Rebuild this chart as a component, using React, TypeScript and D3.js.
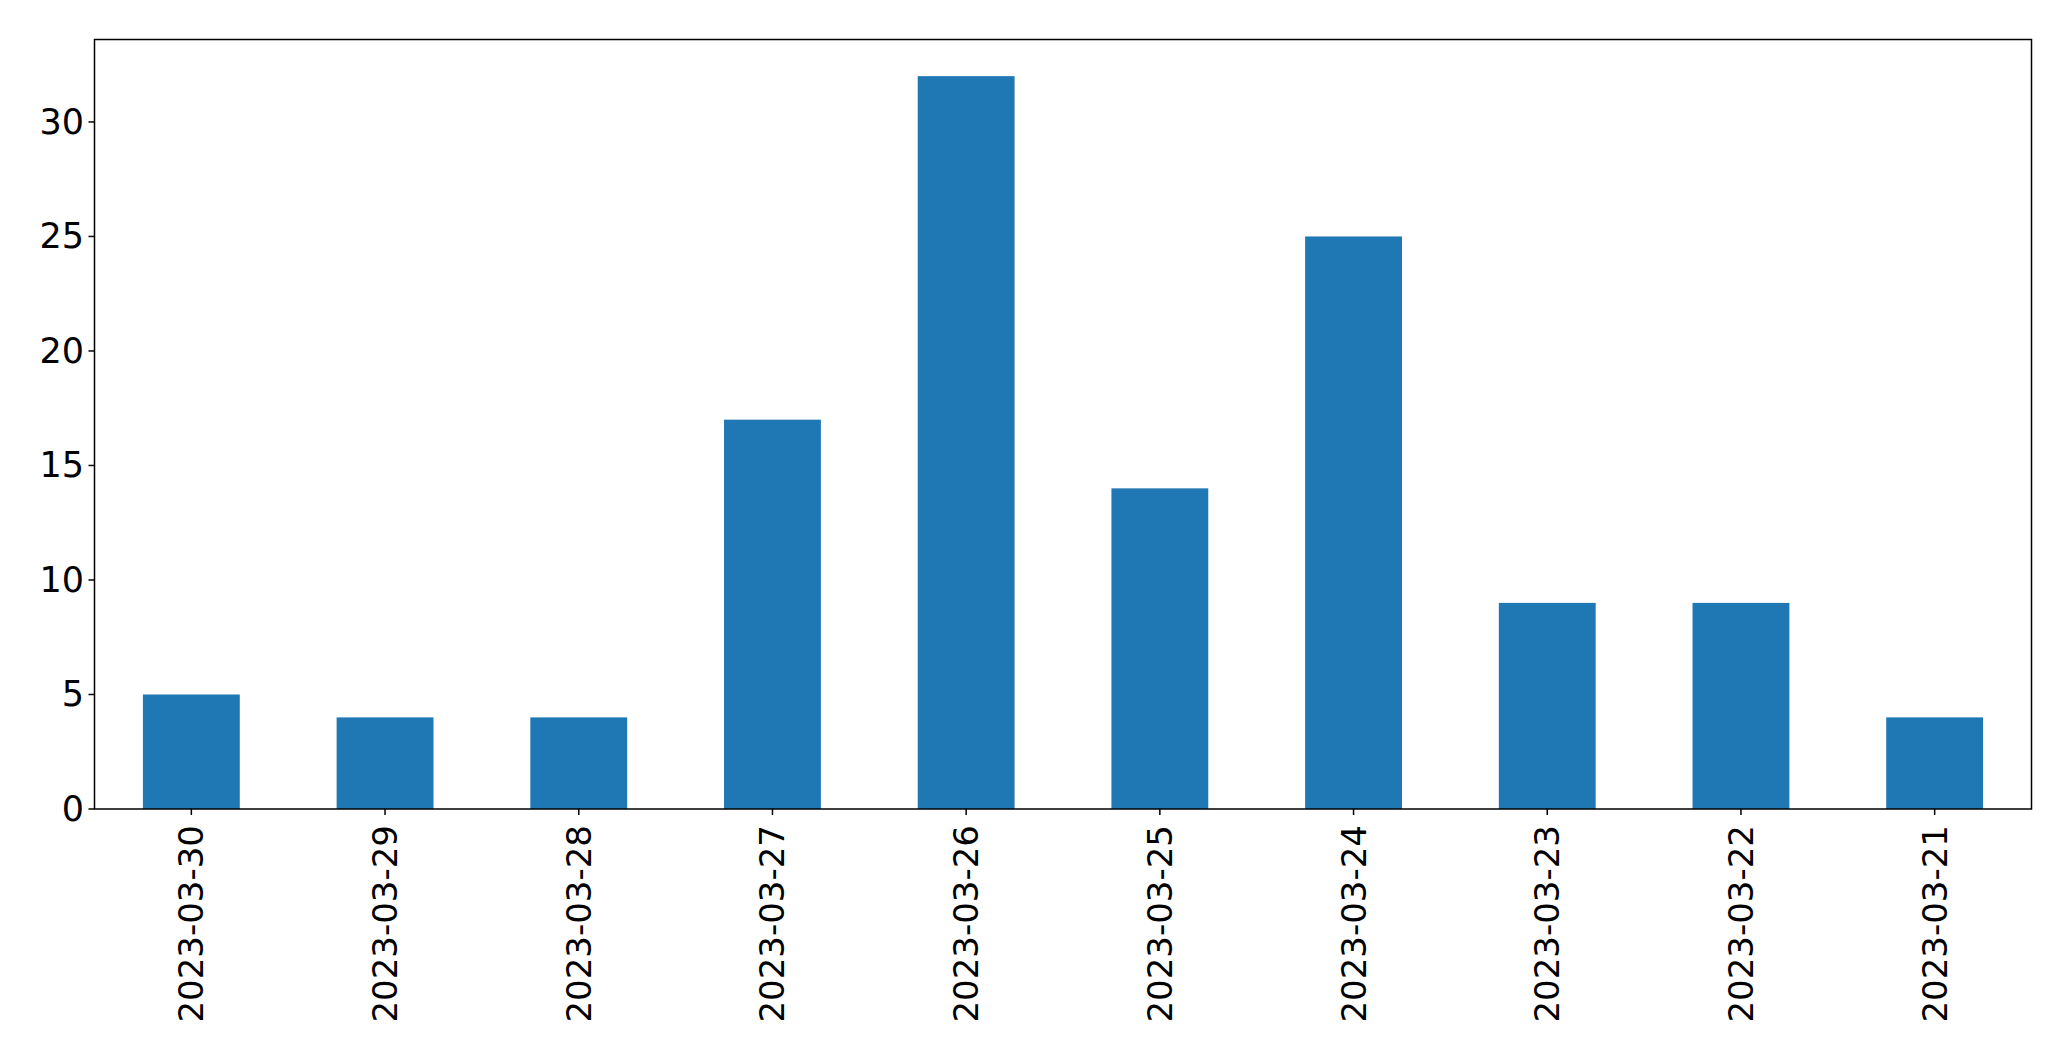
import React from "react";
import * as d3 from "d3";

const categories = ["2023-03-30", "2023-03-29", "2023-03-28", "2023-03-27", "2023-03-26", "2023-03-25", "2023-03-24", "2023-03-23", "2023-03-22", "2023-03-21"];
const values = [5, 4, 4, 17, 32, 14, 25, 9, 9, 4];
const yTicks = [0, 5, 10, 15, 20, 25, 30];

const W = 2071;
const H = 1061;
const left = 94.5;
const right = 2031.5;
const top = 39.5;
const bottom = 809;
const font = "DejaVu Sans, sans-serif";

export default function App() {
  const x = d3.scaleLinear().domain([-0.5, categories.length - 0.5]).range([left, right]);
  const y = d3.scaleLinear().domain([0, d3.max(values)! * 1.05]).range([bottom, top]);
  const bw = x(0.25) - x(-0.25);
  return (
    <svg width={W} height={H} style={{ position: "absolute", left: 0, top: 0, background: "#fff" }}>
      {values.map((v, i) => (
        <rect key={i} x={x(i) - bw / 2} y={y(v)} width={bw} height={y(0) - y(v)} fill="#1f77b4" />
      ))}
      <rect x={left} y={top} width={right - left} height={bottom - top} fill="none" stroke="#000" strokeWidth={1.5} />
      {yTicks.map((t) => (
        <g key={t}>
          <line x1={left - 6} x2={left} y1={y(t)} y2={y(t)} stroke="#000" strokeWidth={1.5} />
          <text x={84} y={y(t)} textAnchor="end" dominantBaseline="central" fontFamily={font} fontSize={35} fill="#000">
            {t}
          </text>
        </g>
      ))}
      {categories.map((c, i) => (
        <g key={c}>
          <line x1={x(i)} x2={x(i)} y1={bottom} y2={bottom + 6} stroke="#000" strokeWidth={1.5} />
          <text
            transform={`translate(${x(i)},${bottom + 16}) rotate(-90)`}
            textAnchor="end"
            dominantBaseline="central"
            fontFamily={font}
            fontSize={34}
            fill="#000"
          >
            {c}
          </text>
        </g>
      ))}
    </svg>
  );
}
